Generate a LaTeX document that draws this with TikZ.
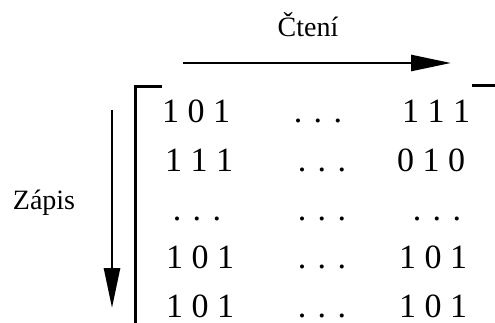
\documentclass[tikz,border=0pt]{standalone}
\usepackage{fontspec}
\setmainfont{Liberation Serif}
\usetikzlibrary{arrows.meta}
\begin{document}
\begin{tikzpicture}[x=1pt,y=-1pt,
  cell/.style={inner sep=0pt,anchor=base,font=\fontsize{34}{40}\selectfont},
  label/.style={inner sep=0pt,anchor=base,font=\fontsize{28}{32}\selectfont},
  dirarrow/.style={line width=2.6pt,-{Triangle[length=40pt,width=16pt]}},
  bracket/.style={line width=3pt}]
\useasboundingbox (0,0) rectangle (495,323);
% direction labels
\node[label] (cteni) at (308,37) {Čtení};
\node[label] (zapis) at (44,210) {Zápis};
% direction arrows
\coordinate (rs) at (183,63);
\coordinate (re) at (451,63);
\coordinate (ws) at (112,110);
\coordinate (we) at (112,308);
\draw[dirarrow] (rs) -- (re);
\draw[dirarrow] (ws) -- (we);
% matrix bracket
\coordinate (bl) at (135,330);
\coordinate (blc) at (135,87);
\coordinate (blt) at (162,87);
\coordinate (brt) at (472,86);
\coordinate (brr) at (500,86);
\draw[bracket] (bl) -- (blc) -- (blt);
\draw[bracket] (brt) -- (brr);
% matrix entries
\node[cell] (a11) at (196,123) {1 0 1};
\node[cell] (a12) at (318,123) {. . .};
\node[cell] (a13) at (436,123) {1 1 1};
\node[cell] (a21) at (199,171.5) {1 1 1};
\node[cell] (a22) at (322,171.5) {. . .};
\node[cell] (a23) at (431,171.5) {0 1 0};
\node[cell] (a31) at (197,220) {. . .};
\node[cell] (a32) at (322,220) {. . .};
\node[cell] (a33) at (437,220) {. . .};
\node[cell] (a41) at (200,268.5) {1 0 1};
\node[cell] (a42) at (322,268.5) {. . .};
\node[cell] (a43) at (433,268.5) {1 0 1};
\node[cell] (a51) at (200,317) {1 0 1};
\node[cell] (a52) at (322,317) {. . .};
\node[cell] (a53) at (433,317) {1 0 1};
\end{tikzpicture}
\end{document}
